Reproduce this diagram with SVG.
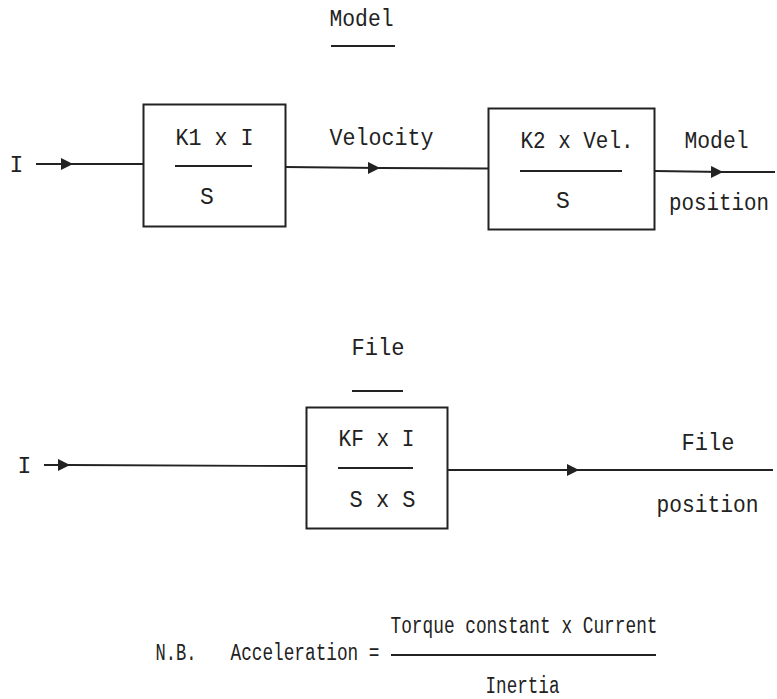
<svg xmlns="http://www.w3.org/2000/svg" width="777" height="699" viewBox="0 0 777 699">
  <style>
    text { font-family: "Liberation Mono", "DejaVu Sans Mono", monospace; font-size: 23px; fill: #222; text-anchor: middle; }
    .box { fill: none; stroke: #222; stroke-width: 2; }
    .rule { stroke: #222; stroke-width: 1.8; fill: none; }
    .wire { stroke: #222; stroke-width: 1.8; fill: none; marker-mid: url(#arrow); }
  </style>
  <defs>
    <marker id="arrow" markerUnits="userSpaceOnUse" markerWidth="13" markerHeight="13" refX="12" refY="6" orient="auto">
      <path d="M0,0 L12,6 L0,12 z" fill="#222"/>
    </marker>
  </defs>
  <rect width="777" height="699" fill="#fff"/>

  <!-- Model section -->
  <g id="model-title">
    <text x="361.5" y="26" textLength="64" lengthAdjust="spacingAndGlyphs">Model</text>
    <line class="rule" x1="331" y1="46" x2="395" y2="46"/>
  </g>
  <g id="input-model">
    <text x="16.5" y="172">I</text>
  </g>
  <g id="velocity-block">
    <rect class="box" x="143.5" y="104.5" width="142" height="122"/>
    <text x="214.5" y="145" textLength="78" lengthAdjust="spacingAndGlyphs">K1 x I</text>
    <line class="rule" x1="175" y1="166" x2="252" y2="166"/>
    <text x="207" y="204">S</text>
  </g>
  <g id="velocity-label">
    <text x="381.5" y="145" textLength="104" lengthAdjust="spacingAndGlyphs">Velocity</text>
  </g>
  <g id="position-block">
    <rect class="box" x="488.5" y="108.5" width="166" height="121"/>
    <text x="577" y="148" textLength="113" lengthAdjust="spacingAndGlyphs">K2 x Vel.</text>
    <line class="rule" x1="520" y1="171" x2="622" y2="171"/>
    <text x="563" y="208">S</text>
  </g>
  <g id="model-position">
    <text x="716.5" y="148" textLength="64" lengthAdjust="spacingAndGlyphs">Model</text>
    <text x="719" y="210" font-size="21" textLength="100" lengthAdjust="spacingAndGlyphs">position</text>
  </g>

  <!-- File section -->
  <g id="file-title">
    <text x="378" y="355" textLength="53" lengthAdjust="spacingAndGlyphs">File</text>
    <line class="rule" x1="352" y1="391" x2="403" y2="391"/>
  </g>
  <g id="input-file">
    <text x="24.5" y="473">I</text>
  </g>
  <g id="file-block">
    <rect class="box" x="306.5" y="407.5" width="141" height="121"/>
    <text x="376.5" y="446" textLength="76" lengthAdjust="spacingAndGlyphs">KF x I</text>
    <line class="rule" x1="338" y1="468" x2="413" y2="468"/>
    <text x="382.5" y="507" textLength="66" lengthAdjust="spacingAndGlyphs">S x S</text>
  </g>
  <g id="file-position">
    <text x="708" y="450" textLength="53" lengthAdjust="spacingAndGlyphs">File</text>
    <text x="707.5" y="512" textLength="102" lengthAdjust="spacingAndGlyphs">position</text>
  </g>

  <!-- Note -->
  <g id="note">
    <text x="176" y="660" textLength="41" lengthAdjust="spacingAndGlyphs">N.B.</text>
    <text x="305" y="660" textLength="149" lengthAdjust="spacingAndGlyphs">Acceleration =</text>
    <text x="524" y="633" font-size="25" textLength="267" lengthAdjust="spacingAndGlyphs">Torque constant x Current</text>
    <line class="rule" x1="391" y1="655" x2="656" y2="655"/>
    <text x="522.5" y="693" textLength="74" lengthAdjust="spacingAndGlyphs">Inertia</text>
  </g>

  <!-- Signal connectors -->
  <g id="connectors">
    <path class="wire" d="M36 164 L73 164 L143 164"/>
    <path class="wire" d="M285 167 L380 168 L488 168.5"/>
    <path class="wire" d="M655 171 L723 172 L775 172"/>
    <path class="wire" d="M44 465 L70 465 L306 466"/>
    <path class="wire" d="M448 470 L579 470 L773 470"/>
  </g>
</svg>
